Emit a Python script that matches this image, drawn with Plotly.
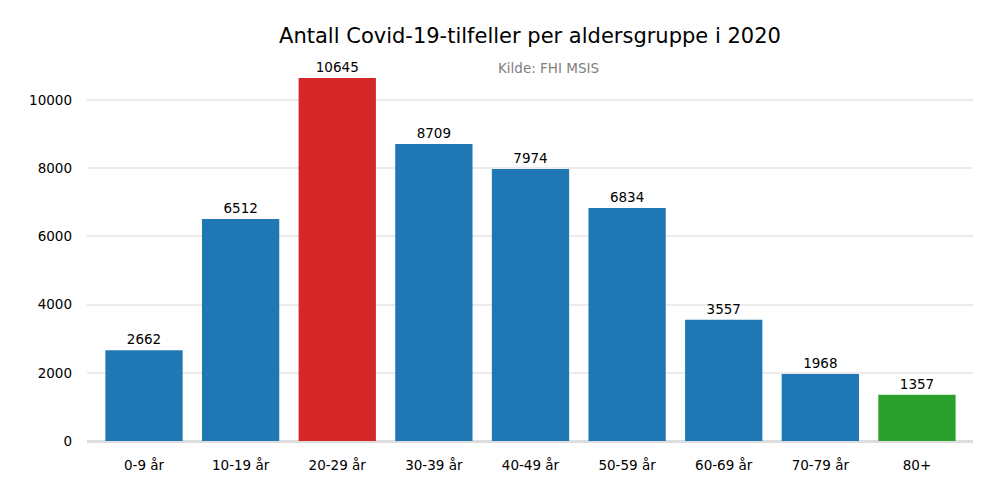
import plotly.graph_objects as go

categories = ["0-9 år", "10-19 år", "20-29 år", "30-39 år", "40-49 år",
              "50-59 år", "60-69 år", "70-79 år", "80+"]
cases = [2662, 6512, 10645, 8709, 7974, 6834, 3557, 1968, 1357]
colors = ["#1f77b4", "#1f77b4", "#d62728", "#1f77b4", "#1f77b4",
          "#1f77b4", "#1f77b4", "#1f77b4", "#2ca02c"]
y_ticks = [0, 2000, 4000, 6000, 8000, 10000]

FONT = "DejaVu Sans"
OFF = 8  # page body margin offset

fig = go.Figure(go.Bar(
    x=list(range(len(categories))), y=cases,
    marker=dict(color=colors, line=dict(width=0)),
    width=0.8,
    text=[str(v) for v in cases], textposition="outside",
    textfont=dict(family=FONT, size=13.5, color="black"),
    cliponaxis=False,
))

L, R, T, B = 87 - OFF, 27 + OFF, 59 - OFF, 59 + OFF
W, H = 1000, 500
plot_w = W - L - R
plot_h = H - T - B

fig.update_layout(
    width=W, height=H,
    margin=dict(l=L, r=R, t=T, b=B, autoexpand=False),
    paper_bgcolor="white", plot_bgcolor="white",
    font=dict(family=FONT, size=13, color="black"),
    showlegend=False,
    title=dict(text="Antall Covid-19-tilfeller per aldersgruppe i 2020",
               x=0.5, xref="paper", xanchor="center",
               y=1 - (36 - OFF) / H, yref="container", yanchor="middle",
               font=dict(family=FONT, size=21, color="black")),
    xaxis=dict(range=[-0.59, 8.58], tickmode="array",
               tickvals=list(range(len(categories))), ticktext=categories,
               showgrid=False, zeroline=False, showline=False, ticks="",
               ticklabelstandoff=14,
               tickfont=dict(family=FONT, size=13.5)),
    yaxis=dict(range=[0, 11200], tickmode="array", tickvals=y_ticks,
               ticktext=[str(t) for t in y_ticks],
               showgrid=True, gridcolor="#ebebeb", gridwidth=1.5,
               zeroline=True, zerolinecolor="#dddddd", zerolinewidth=2.5,
               showline=False, ticks="", ticklabelstandoff=14,
               tickfont=dict(family=FONT, size=13.5)),
    annotations=[dict(text="Kilde: FHI MSIS",
                      x=(548 - OFF - L) / plot_w,
                      y=(H - B - (68 - OFF)) / plot_h,
                      xref="paper", yref="paper", showarrow=False,
                      xanchor="center", yanchor="middle",
                      font=dict(family=FONT, size=13.5, color="gray"))],
)

fig.write_html("out.html")
